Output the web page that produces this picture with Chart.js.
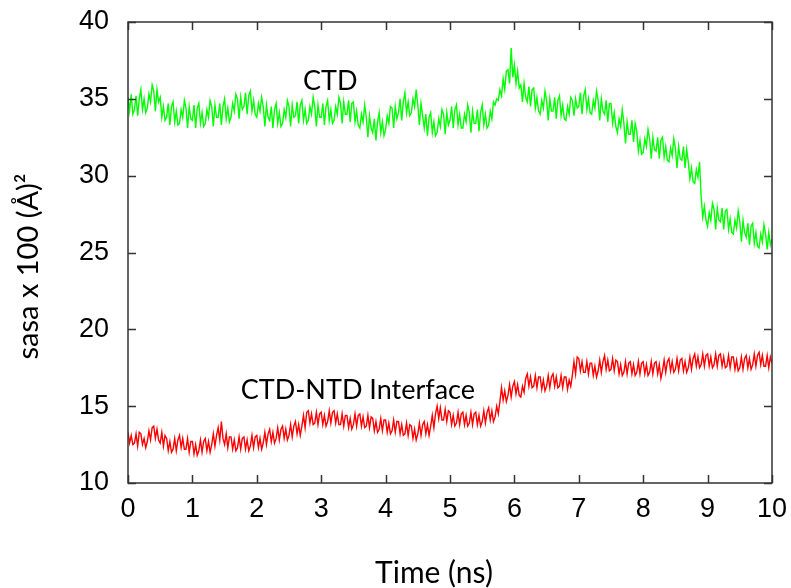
<!DOCTYPE html>
<html>
<head>
<meta charset="utf-8">
<script src="https://cdn.jsdelivr.net/npm/chart.js@4.4.1/dist/chart.umd.min.js"></script>
<style>
  html, body { margin: 0; padding: 0; background: #ffffff; }
  #wrap { width: 791px; height: 588px; }
</style>
</head>
<body>
<div id="wrap"><canvas id="c" width="791" height="588"></canvas></div>
<script>
// Sampling interval of the trajectory (ns)
const sampleStep = 0.025;

// Solvent accessible surface area of the CTD (x 100 Å^2)
const ctdSasa = [
  35.1,34.2,35.3,34.0, 34.3,35.2,33.9,35.0, 35.6,34.3,35.0,34.1, 34.4,35.3,34.8,35.9, 35.5,34.2,35.6,34.8,
  35.1,33.8,34.5,33.6, 33.8,34.7,33.3,34.5, 34.8,33.5,34.2,33.3, 33.4,34.3,33.8,34.9, 34.4,33.1,34.5,33.7,
  33.6,34.6,33.1,34.4, 34.7,33.4,34.1,33.2, 33.4,34.3,33.8,34.9, 34.5,33.2,34.6,33.8, 33.8,34.7,33.3,34.5,
  35.0,33.7,34.4,33.5, 33.8,34.7,34.2,35.3, 35.0,33.7,35.1,34.3, 34.5,35.4,34.0,35.2, 35.5,34.2,34.9,34.0,
  33.8,34.7,34.2,35.1, 34.5,33.2,34.6,33.8, 33.6,34.5,33.1,34.3, 34.7,33.4,34.1,33.2, 33.4,34.3,33.8,34.9,
  34.5,33.2,34.6,33.8, 33.9,34.8,33.4,34.6, 34.9,33.6,34.3,33.4, 33.6,34.5,34.0,35.1, 34.5,33.2,34.6,33.8,
  33.8,34.7,33.3,34.5, 34.9,33.6,34.3,33.4, 33.6,34.5,34.0,35.1, 34.7,33.4,34.8,34.0, 34.0,34.9,33.5,34.7,
  34.8,33.5,34.2,33.3, 33.1,34.0,33.5,34.6, 33.8,32.5,33.9,33.1, 32.8,33.7,32.3,33.5, 34.1,32.8,33.5,32.6,
  33.0,33.9,33.4,34.5, 34.4,33.1,34.5,33.7, 34.1,35.0,33.6,34.8, 35.4,34.1,34.8,33.9, 34.1,35.0,34.5,35.6,
  34.6,33.3,34.7,33.9, 33.1,34.0,32.6,33.8, 34.1,32.8,33.5,32.6, 32.8,33.7,33.2,34.3, 34.0,32.7,34.1,33.3,
  33.6,34.5,33.1,34.3, 34.6,33.3,34.0,33.1, 33.1,34.0,33.5,34.6, 34.1,32.8,34.2,33.4, 33.4,34.3,32.9,34.1,
  34.6,33.3,34.0,33.1, 33.3,34.2,33.7,34.8, 34.6,35.0,34.9,35.6, 35.2,36.3,35.6,36.8, 36.9,36.0,38.3,36.4,
  37.2,36.0,36.8,35.7, 35.9,34.8,36.0,35.1, 34.8,35.8,34.5,35.6, 35.7,34.4,35.1,34.2, 34.0,34.9,34.4,35.5,
  34.9,33.6,35.0,34.2, 34.2,35.1,33.7,34.9, 35.2,33.9,34.6,33.7, 33.6,34.5,34.0,35.1, 34.9,33.9,35.0,34.4,
  34.5,35.4,34.0,35.2, 35.6,34.3,35.0,34.1, 34.0,34.9,34.4,35.5, 34.9,33.6,35.0,34.2, 34.0,34.9,33.5,34.7,
  34.7,33.4,34.1,33.2, 32.8,33.7,33.2,34.3, 33.4,32.1,33.5,32.7, 32.7,33.6,32.2,33.4, 32.9,31.6,32.3,31.4,
  31.5,32.4,31.9,33.0, 32.4,31.1,32.5,31.7, 31.6,32.5,31.1,32.3, 32.5,31.2,31.9,31.0, 30.9,31.8,31.3,32.4,
  31.8,30.5,31.9,31.1, 31.0,31.9,30.5,31.7, 30.9,29.8,30.5,29.6, 29.5,30.4,29.9,30.9, 28.6,27.3,28.0,27.1,
  26.7,27.6,27.1,28.2, 27.8,26.5,27.9,27.1, 27.0,27.9,26.5,27.7, 27.8,26.5,27.2,26.3, 26.2,27.1,26.6,27.7,
  27.0,25.7,27.1,26.3, 26.0,26.9,25.5,26.7, 26.9,25.6,26.3,25.4, 25.3,26.2,25.7,26.8, 26.2,25.2,26.3,25.5,
  25.9
];

// Solvent accessible surface area of the CTD-NTD interface (x 100 Å^2)
const interfaceSasa = [
  13.3,12.6,13.1,12.5, 12.6,13.2,12.4,13.3, 13.2,12.5,12.9,12.3, 12.7,13.4,12.8,13.6, 13.7,12.9,13.5,12.8,
  12.6,13.3,12.4,13.1, 12.9,12.1,12.7,12.0, 12.2,12.9,12.1,12.8, 13.1,12.3,12.9,12.2, 12.2,12.9,12.0,12.7,
  12.7,11.9,12.5,11.8, 12.1,12.8,12.0,12.7, 12.9,12.1,12.7,12.0, 12.5,13.2,12.4,13.1, 13.6,12.8,14.0,12.9,
  12.5,13.2,12.3,13.0, 13.0,12.2,12.8,12.1, 12.3,13.0,12.2,12.9, 13.0,12.2,12.8,12.1, 12.4,13.1,12.3,13.0,
  13.1,12.3,12.9,12.2, 12.6,13.3,12.5,13.2, 13.5,12.7,13.3,12.6, 12.9,13.6,12.8,13.5, 13.7,12.9,13.5,12.8,
  13.1,13.8,13.0,13.7, 14.0,13.2,13.8,13.1, 13.7,14.4,13.6,14.6, 14.7,13.9,14.5,13.8, 13.9,14.6,13.8,14.5,
  14.6,13.8,14.4,13.7, 14.0,14.7,13.9,14.6, 14.7,13.9,14.5,13.8, 13.8,14.5,13.7,14.4, 14.4,13.6,14.2,13.5,
  13.8,14.5,13.7,14.4, 14.5,13.7,14.3,13.6, 13.7,14.4,13.6,14.3, 14.2,13.4,14.0,13.3, 13.5,14.2,13.4,14.1,
  14.1,13.3,13.9,13.2, 13.4,14.1,13.3,14.0, 14.0,13.2,13.8,13.1, 13.2,13.9,13.1,13.8, 13.7,12.9,13.5,12.8,
  13.2,13.9,13.1,13.8, 14.0,13.2,13.8,13.1, 13.7,14.4,13.6,14.5, 15.0,14.2,14.9,14.1, 14.1,14.8,14.0,14.7,
  14.6,13.8,14.4,13.7, 13.9,14.6,13.8,14.5, 14.6,13.8,14.4,13.7, 13.9,14.6,13.8,14.5, 14.6,13.8,14.4,13.7,
  14.0,14.7,13.9,14.6, 14.9,14.1,14.7,14.0, 14.3,15.0,14.5,15.3, 16.2,15.4,16.0,15.3, 15.7,16.4,15.6,16.3,
  16.6,15.8,16.4,15.7, 15.6,16.3,15.9,16.8, 17.1,16.3,16.9,16.2, 16.3,17.0,16.2,16.9, 16.9,16.1,16.7,16.0,
  16.3,17.0,16.2,16.9, 17.1,16.3,16.9,16.2, 16.3,17.0,16.2,16.9, 16.9,16.1,16.7,16.3, 17.0,17.9,17.1,18.2,
  18.1,17.3,17.9,17.2, 17.2,17.9,17.1,17.8, 17.8,17.0,17.6,16.9, 17.3,18.0,17.2,17.9, 18.3,17.4,18.0,17.3,
  17.4,18.1,17.3,18.0, 17.9,17.1,17.7,17.0, 17.2,17.9,17.1,17.8, 17.9,17.1,17.7,17.0, 17.2,17.9,17.1,17.8,
  17.9,17.1,17.7,17.0, 17.2,17.9,17.1,17.8, 17.9,17.1,17.7,16.8, 17.3,18.0,17.2,17.9, 18.1,17.3,17.9,17.2,
  17.4,18.1,17.3,18.0, 18.1,17.3,17.9,17.2, 17.5,18.2,17.4,18.1, 18.4,17.6,18.2,17.5, 17.7,18.4,17.6,18.3,
  18.4,17.6,18.2,17.5, 17.7,18.4,17.6,18.3, 18.4,17.6,18.2,17.5, 17.6,18.3,17.5,18.2, 18.2,17.4,18.0,17.3,
  17.5,18.2,17.4,18.1, 18.3,17.5,18.1,17.4, 17.7,18.4,17.6,18.3, 18.5,17.7,18.3,17.6, 17.6,18.3,17.5,18.2,
  17.8
];

// Axis ticks
const timeTicks = [0, 1, 2, 3, 4, 5, 6, 7, 8, 9, 10];
const sasaTicks = [10, 15, 20, 25, 30, 35, 40];

// In-plot labels: text, time (ns), sasa value
const seriesLabels = [
  { text: 'CTD', t: 3.14, v: 36.15 },
  { text: 'CTD-NTD Interface', t: 3.57, v: 16.05 }
];

const xTitle = 'Time (ns)';
const yTitle = 'sasa x 100 (Å)²';

const toPoints = arr => arr.map((v, i) => ({ x: i * sampleStep, y: v }));

const frameColor = '#333333';
const tickFont = { family: "'Liberation Sans', Arial, sans-serif", size: 27 };
const textFamily = "Lato, 'Open Sans', sans-serif";

// Box around the plot with inward-pointing tick marks on all four sides
const framePlugin = {
  id: 'frame',
  afterDatasetsDraw(chart) {
    const { ctx, chartArea: a, scales } = chart;
    const len = 8;
    ctx.save();
    ctx.strokeStyle = frameColor;
    ctx.lineWidth = 1.5;
    ctx.strokeRect(a.left, a.top, a.right - a.left, a.bottom - a.top);
    ctx.beginPath();
    timeTicks.forEach(t => {
      const px = Math.round(scales.x.getPixelForValue(t)) + 0.5;
      ctx.moveTo(px, a.bottom); ctx.lineTo(px, a.bottom - len);
      ctx.moveTo(px, a.top); ctx.lineTo(px, a.top + len);
    });
    sasaTicks.forEach(v => {
      const py = Math.round(scales.y.getPixelForValue(v)) + 0.5;
      ctx.moveTo(a.left, py); ctx.lineTo(a.left + len, py);
      ctx.moveTo(a.right, py); ctx.lineTo(a.right - len, py);
    });
    ctx.stroke();
    ctx.restore();
  }
};

// Series names next to their curves, and the two axis titles
const labelPlugin = {
  id: 'textLabels',
  afterDraw(chart) {
    const { ctx, scales, chartArea: a } = chart;
    ctx.save();
    ctx.fillStyle = '#000000';
    ctx.textAlign = 'center';
    ctx.textBaseline = 'middle';
    ctx.font = `27px ${textFamily}`;
    seriesLabels.forEach(l => {
      ctx.fillText(l.text, scales.x.getPixelForValue(l.t), scales.y.getPixelForValue(l.v));
    });
    ctx.font = `30px ${textFamily}`;
    ctx.fillText(xTitle, (a.left + a.right) / 2 - 16, 573);
    ctx.translate(29, (a.top + a.bottom) / 2 + 14);
    ctx.rotate(-Math.PI / 2);
    ctx.font = `29px ${textFamily}`;
    ctx.fillText(yTitle, 0, 0);
    ctx.restore();
  }
};

new Chart(document.getElementById('c'), {
  type: 'line',
  data: {
    datasets: [
      {
        label: 'CTD',
        data: toPoints(ctdSasa),
        borderColor: '#00ff00',
        borderWidth: 1.4,
        pointRadius: 0,
        tension: 0,
        fill: false
      },
      {
        label: 'CTD-NTD Interface',
        data: toPoints(interfaceSasa),
        borderColor: '#ff0000',
        borderWidth: 1.4,
        pointRadius: 0,
        tension: 0,
        fill: false
      }
    ]
  },
  options: {
    responsive: false,
    animation: false,
    devicePixelRatio: 1,
    layout: { padding: { top: 22, right: 19, left: 0, bottom: 0 } },
    plugins: {
      legend: { display: false },
      tooltip: { enabled: false }
    },
    scales: {
      x: {
        type: 'linear',
        min: 0,
        max: 10,
        afterBuildTicks: s => { s.ticks = timeTicks.map(v => ({ value: v })); },
        afterFit: s => { s.height = 105; s.paddingLeft = 0; s.paddingRight = 0; },
        grid: { display: false, drawTicks: false },
        border: { display: false },
        ticks: { color: '#000000', font: tickFont, padding: 10, maxRotation: 0 }
      },
      y: {
        type: 'linear',
        min: 10,
        max: 40,
        afterBuildTicks: s => { s.ticks = sasaTicks.map(v => ({ value: v })); },
        afterFit: s => { s.width = 128; s.paddingTop = 0; s.paddingBottom = 0; },
        grid: { display: false, drawTicks: false },
        border: { display: false },
        ticks: { color: '#000000', font: tickFont, padding: 19 }
      }
    }
  },
  plugins: [framePlugin, labelPlugin]
});
</script>
</body>
</html>
